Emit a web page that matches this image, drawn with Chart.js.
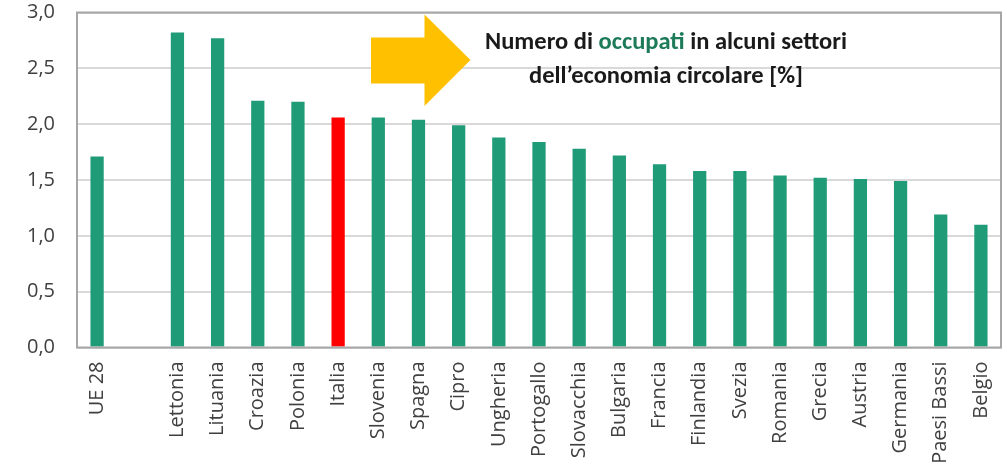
<!DOCTYPE html>
<html>
<head>
<meta charset="utf-8">
<script src="https://cdn.jsdelivr.net/npm/chart.js@4/dist/chart.umd.min.js"></script>
<style>
  html, body { margin: 0; padding: 0; background: #ffffff; }
  #wrap { width: 1007px; height: 469px; position: relative; }
</style>
</head>
<body>
<div id="wrap"><canvas id="c"></canvas></div>
<script>
// ---- Data ----
const categories = ['UE 28', '', 'Lettonia', 'Lituania', 'Croazia', 'Polonia', 'Italia', 'Slovenia', 'Spagna', 'Cipro', 'Ungheria', 'Portogallo', 'Slovacchia', 'Bulgaria', 'Francia', 'Finlandia', 'Svezia', 'Romania', 'Grecia', 'Austria', 'Germania', 'Paesi Bassi', 'Belgio'];
const values = [1.71, null, 2.82, 2.77, 2.21, 2.20, 2.06, 2.06, 2.04, 1.99, 1.88, 1.84, 1.78, 1.72, 1.64, 1.58, 1.58, 1.54, 1.52, 1.51, 1.49, 1.19, 1.10];
const highlighted = ['Italia'];
const yTickLabels = ['0,0', '0,5', '1,0', '1,5', '2,0', '2,5', '3,0'];
const titleLine1 = ['Numero di ', 'occupati', ' in alcuni settori'];
const titleLine2 = 'dell\u2019economia circolare [%]';

const GREEN = '#1F9B78';
const RED = '#FF0000';
const barColors = categories.map(c => highlighted.includes(c) ? RED : GREEN);
const TICK_FONT = "'Open Sans', sans-serif";

const framePlugin = {
  id: 'frame',
  afterDatasetsDraw(chart) {
    const { ctx, chartArea: a } = chart;
    ctx.save();
    ctx.strokeStyle = '#A6A6A6';
    ctx.lineWidth = 2;
    ctx.strokeRect(a.left, a.top, a.right - a.left, a.bottom - a.top);
    ctx.restore();
  },
  afterDraw(chart) {
    const ctx = chart.ctx;
    ctx.save();
    // Arrow decoration
    ctx.fillStyle = '#FFC000';
    ctx.beginPath();
    ctx.moveTo(371, 37.5);
    ctx.lineTo(424.5, 37.5);
    ctx.lineTo(424.5, 14.5);
    ctx.lineTo(470.5, 60);
    ctx.lineTo(424.5, 106);
    ctx.lineTo(424.5, 83.5);
    ctx.lineTo(371, 83.5);
    ctx.closePath();
    ctx.fill();

    // Title text
    const fam = "Carlito, Lato, sans-serif";
    ctx.font = 'bold 100px ' + fam;
    const full = titleLine1.join('');
    const w100 = ctx.measureText(full).width;
    const size = 100 * 362 / w100;
    ctx.font = 'bold ' + size.toFixed(2) + 'px ' + fam;
    ctx.textBaseline = 'alphabetic';
    ctx.textAlign = 'left';
    const cx = 666;
    const totalW = ctx.measureText(full).width;
    let x = cx - totalW / 2;
    titleLine1.forEach((part, i) => {
      ctx.fillStyle = i === 1 ? '#1E7B5A' : '#1A1A1A';
      ctx.fillText(part, x, 49);
      x += ctx.measureText(part).width;
    });
    ctx.fillStyle = '#1A1A1A';
    ctx.textAlign = 'center';
    ctx.fillText(titleLine2, cx, 83);
    ctx.restore();
  }
};

new Chart(document.getElementById('c'), {
  type: 'bar',
  data: {
    labels: categories,
    datasets: [{
      data: values,
      backgroundColor: barColors,
      borderWidth: 0,
      categoryPercentage: 1.0,
      barPercentage: 0.33
    }]
  },
  options: {
    responsive: true,
    maintainAspectRatio: false,
    animation: false,
    events: [],
    layout: { padding: { top: 12.5, right: 6, left: 0, bottom: 0 } },
    plugins: { legend: { display: false }, tooltip: { enabled: false }, title: { display: false } },
    scales: {
      x: {
        grid: { display: false, drawTicks: false },
        border: { display: false },
        ticks: {
          color: '#404040',
          font: { family: TICK_FONT, size: 20 },
          minRotation: 90,
          maxRotation: 90,
          autoSkip: false,
          padding: 14
        },
        afterFit(scale) { scale.height = 121.5; scale.paddingLeft = 0; scale.paddingRight = 0; }
      },
      y: {
        min: 0,
        max: 3,
        grid: { color: '#D9D9D9', lineWidth: 2, drawTicks: false },
        border: { display: false },
        ticks: {
          stepSize: 0.5,
          color: '#404040',
          font: { family: TICK_FONT, size: 20 },
          padding: 22,
          callback: (v, i) => yTickLabels[i]
        },
        afterFit(scale) { scale.width = 77; scale.paddingTop = 0; scale.paddingBottom = 0; }
      }
    }
  },
  plugins: [framePlugin]
});
</script>
</body>
</html>
